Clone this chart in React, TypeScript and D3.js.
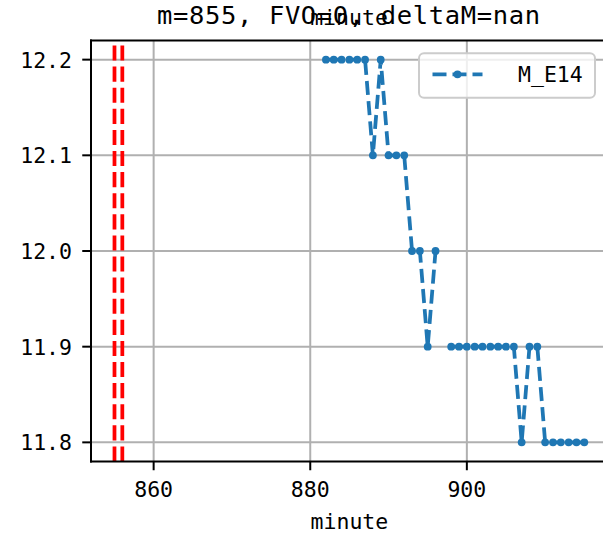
import React from "react";
import * as d3 from "d3";

const minutes: number[] = [882, 883, 884, 885, 886, 887, 888, 889, 890, 891, 892, 893, 894, 895, 896, 897, 898, 899, 900, 901, 902, 903, 904, 905, 906, 907, 908, 909, 910, 911, 912, 913, 914, 915];
const values: (number | null)[] = [12.2, 12.2, 12.2, 12.2, 12.2, 12.2, 12.1, 12.2, 12.1, 12.1, 12.1, 12.0, 12.0, 11.9, 12.0, null, 11.9, 11.9, 11.9, 11.9, 11.9, 11.9, 11.9, 11.9, 11.9, 11.8, 11.9, 11.9, 11.8, 11.8, 11.8, 11.8, 11.8, 11.8];
const markerLines: number[] = [855, 856];
const xTicks: number[] = [860, 880, 900];
const yTicks: number[] = [11.8, 11.9, 12.0, 12.1, 12.2];
const seriesName = "M_E14";
const titleText = "m=855, FVO=0, deltaM=nan";
const xLabel = "minute";

const W = 603;
const H = 542;
const left = 91;
const right = 607.8;
const top = 40.5;
const bottom = 461.5;
const BLUE = "#1f77b4";
const MONO = "'DejaVu Sans Mono', 'Noto Sans CJK SC', monospace";

export default function App() {
  const x = d3.scaleLinear().domain([852, 918]).range([left, right]);
  const y = d3.scaleLinear().domain([11.78, 12.22]).range([bottom, top]);
  const pts = minutes.map((m, i) => ({ m, v: values[i] }));
  const line = d3
    .line<{ m: number; v: number | null }>()
    .defined((d) => d.v !== null)
    .x((d) => x(d.m))
    .y((d) => y(d.v as number));

  const legX0 = 419;
  const legY0 = 53.3;
  const legW = 176;
  const legH = 44.4;
  const handleY = 74.3;

  return (
    <svg
      width={W}
      height={H}
      style={{ position: "absolute", left: 0, top: 0, background: "#fff" }}
      fontFamily={MONO}
    >
      <rect x={0} y={0} width={W} height={H} fill="#fff" />
      {/* grid */}
      {xTicks.map((t) => (
        <line key={"gx" + t} x1={x(t)} x2={x(t)} y1={top} y2={bottom} stroke="#b0b0b0" strokeWidth={2} />
      ))}
      {yTicks.map((t) => (
        <line key={"gy" + t} x1={left} x2={right} y1={y(t)} y2={y(t)} stroke="#b0b0b0" strokeWidth={2} />
      ))}
      {/* red vertical lines */}
      {markerLines.map((m) => (
        <line
          key={"r" + m}
          x1={x(m)}
          x2={x(m)}
          y1={bottom}
          y2={top}
          stroke="#ff0000"
          strokeWidth={3.75}
          strokeDasharray="15.1,6"
        />
      ))}
      {/* data line */}
      <path d={line(pts) || ""} fill="none" stroke={BLUE} strokeWidth={3.75} strokeDasharray="14,6.2" />
      {pts
        .filter((d) => d.v !== null)
        .map((d) => (
          <circle key={"p" + d.m} cx={x(d.m)} cy={y(d.v as number)} r={3.9} fill={BLUE} />
        ))}
      {/* spines */}
      <line x1={left} x2={left} y1={top - 1} y2={bottom + 1} stroke="#000" strokeWidth={2} />
      <line x1={left - 1} x2={W} y1={top} y2={top} stroke="#000" strokeWidth={2} />
      <line x1={left - 1} x2={W} y1={bottom} y2={bottom} stroke="#000" strokeWidth={2} />
      <line x1={right} x2={right} y1={top} y2={bottom} stroke="#000" strokeWidth={2} />
      {/* ticks */}
      {xTicks.map((t) => (
        <g key={"tx" + t}>
          <line x1={x(t)} x2={x(t)} y1={bottom} y2={bottom + 8.75} stroke="#000" strokeWidth={2} />
          <text x={x(t)} y={497.3} fontSize={21.5} textAnchor="middle" fill="#000">
            {t}
          </text>
        </g>
      ))}
      {yTicks.map((t) => (
        <g key={"ty" + t}>
          <line x1={left - 8.75} x2={left} y1={y(t)} y2={y(t)} stroke="#000" strokeWidth={2} />
          <text x={72} y={y(t) + 8} fontSize={21.5} textAnchor="end" fill="#000">
            {t.toFixed(1)}
          </text>
        </g>
      ))}
      {/* labels */}
      <text x={(left + right) / 2} y={529} fontSize={21.5} textAnchor="middle" fill="#000">
        {xLabel}
      </text>
      <text
        x={157}
        y={24}
        fontSize={25.5}
        textLength={383}
        lengthAdjust="spacing"
        fill="#000"
      >
        {titleText}
      </text>
      <text x={349} y={25} fontSize={21.5} textAnchor="middle" fill="#000">
        {xLabel}
      </text>
      {/* legend */}
      <rect
        x={legX0}
        y={legY0}
        width={legW}
        height={legH}
        rx={5}
        ry={5}
        fill="#fff"
        fillOpacity={0.8}
        stroke="#cccccc"
        strokeWidth={2}
      />
      <line
        x1={432.5}
        x2={482.5}
        y1={handleY}
        y2={handleY}
        stroke={BLUE}
        strokeWidth={3.75}
        strokeDasharray="14,6"
      />
      <circle cx={457.5} cy={handleY} r={3.9} fill={BLUE} />
      <text x={518} y={81.7} fontSize={21.5} fill="#000">
        {seriesName}
      </text>
    </svg>
  );
}
